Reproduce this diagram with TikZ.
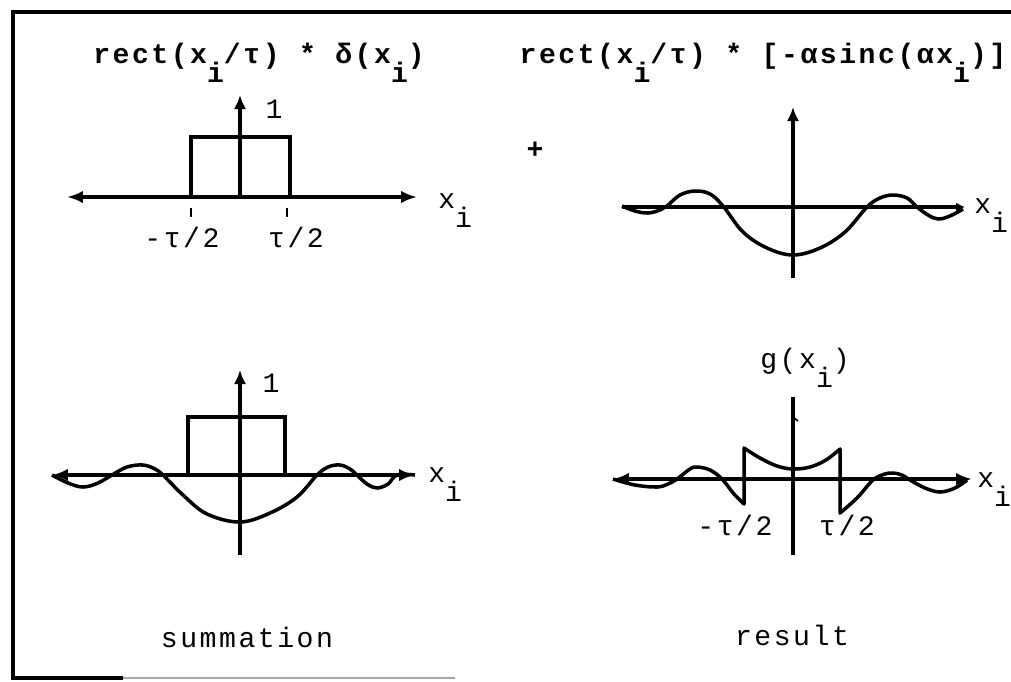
\documentclass[tikz,border=0pt]{standalone}
\usepackage{fontspec}
\setmainfont{Liberation Mono}[LetterSpace=9]
\usetikzlibrary{arrows.meta}
\newcommand{\sbi}{\raisebox{-0.7em}{i}}

\begin{document}
\begin{tikzpicture}[
  x=0.02cm, y=-0.02cm,
  axis/.style={line width=2pt},
  both/.style={axis, {Latex[length=9pt,width=7pt]}-{Latex[length=9pt,width=7pt]}},
  up/.style={axis, -{Latex[length=8pt,width=7pt]}},
  wave/.style={line width=2pt, line join=round},
  tick/.style={line width=0.9pt},
  frame/.style={line width=2pt},
  ttl/.style={font=\bfseries\fontsize{16}{18}\selectfont, inner sep=0pt},
  lbl/.style={font=\fontsize{16}{18}\selectfont, inner sep=0pt}
]
\useasboundingbox (0,0) rectangle (1011,681);

% frame
\coordinate (fTR) at (1011,12);
\coordinate (fTL) at (13,12);
\coordinate (fBL) at (13,678);
\coordinate (fB1) at (123,678);
\coordinate (fB2) at (455,678);
\draw[frame] (fTR) -- (fTL) -- (fBL) -- (fB1);
\draw[gray!70, line width=0.6pt] (fB1) -- (fB2);

% top left: rect * delta
\coordinate (aL) at (67,197);
\coordinate (aR) at (417,197);
\coordinate (aO) at (240,197);
\coordinate (aT) at (240,95);
\draw[both] (aL) -- (aR);
\draw[up] (aO) -- (aT);
\draw[axis] (191,197) |- (290,137) -- (290,197);
\draw[tick] (191,208) -- (191,217);
\draw[tick] (287,208) -- (287,217);
\node[ttl, anchor=base] (t1) at (259,63) {rect(x\sbi/τ) * δ(x\sbi)};
\node[lbl, anchor=base] (one1) at (274,118) {1};
\node[lbl, anchor=base] (m1) at (182,247) {-τ/2};
\node[lbl, anchor=base] (p1) at (296,247) {τ/2};
\node[lbl, anchor=base west] (x1) at (438,208) {x\sbi};

% top right: rect * sinc
\coordinate (bL) at (622,207);
\coordinate (bR) at (965,207);
\coordinate (bB) at (793,278);
\coordinate (bT) at (793,107);
\draw[axis, -{Latex[length=5pt,width=5pt]}] (bL) -- (bR);
\draw[up] (bB) -- (bT);
\draw[wave] plot[smooth, tension=0.6] coordinates {(622,206) (635,211) (648,213) (660,210) (667,206)
  (680,195) (695,191) (710,194) (723,206) (743,232) (767,248) (793,255) (820,248) (845,232)
  (867,207) (880,198) (893,195) (907,198) (917,207) (928,215) (938,219) (950,216) (963,209)};
\node[ttl, anchor=base] (t2) at (763,63) {rect(x\sbi/τ) * [-αsinc(αx\sbi)]};
\node[lbl, font=\bfseries\fontsize{16}{18}\selectfont] (plus) at (535,150) {+};
\node[lbl, anchor=base west] (x2) at (974,213) {x\sbi};

% bottom left: summation
\coordinate (cL) at (52,475);
\coordinate (cR) at (415,475);
\coordinate (cB) at (240,555);
\coordinate (cT) at (240,370);
\draw[both] (cL) -- (cR);
\draw[up] (cB) -- (cT);
\draw[axis] (188,475) |- (285,417) -- (285,475);
\draw[wave] plot[smooth, tension=0.6] coordinates {(52,475) (68,483) (83,487) (98,483) (112,475)
  (127,467) (143,465) (155,469) (163,475) (183,495) (207,514) (240,522) (270,513) (297,497)
  (317,475) (328,467) (340,465) (350,469) (357,475) (367,484) (377,488) (388,484) (397,475) (415,475)};
\node[lbl, anchor=base] (one2) at (271,392) {1};
\node[lbl, anchor=base west] (x3) at (428,482) {x\sbi};
\node[lbl, anchor=base] (sum) at (247,647) {summation};

% bottom right: result
\coordinate (dL) at (613,479);
\coordinate (dR) at (972,479);
\coordinate (dB) at (793,555);
\coordinate (dT) at (793,397);
\draw[both] (dL) -- (dR);
\draw[axis] (dB) -- (dT);
\draw[tick] (793,417) -- (798,421);
\draw[wave] plot[smooth, tension=0.6] coordinates {(613,479) (635,485) (657,487) (668,484) (677,479)
  (690,469) (697,467) (710,470) (722,479) (734,494) (744,504)}
  -- plot[smooth, tension=0.6] coordinates {(744,448) (760,458) (777,466) (793,469) (810,467) (826,460) (840,449)}
  -- plot[smooth, tension=0.6] coordinates {(840,513) (857,498) (873,480) (885,474) (893,473) (902,475) (910,480)
  (925,488) (940,492) (955,488) (967,480)};
\node[lbl, anchor=base west] (g) at (760,368) {g(x\sbi)};
\node[lbl, anchor=base] (m2) at (735,535) {-τ/2};
\node[lbl, anchor=base] (p2) at (847,535) {τ/2};
\node[lbl, anchor=base west] (x4) at (977,487) {x\sbi};
\node[lbl, anchor=base] (res) at (792,645) {result};
\end{tikzpicture}
\end{document}
